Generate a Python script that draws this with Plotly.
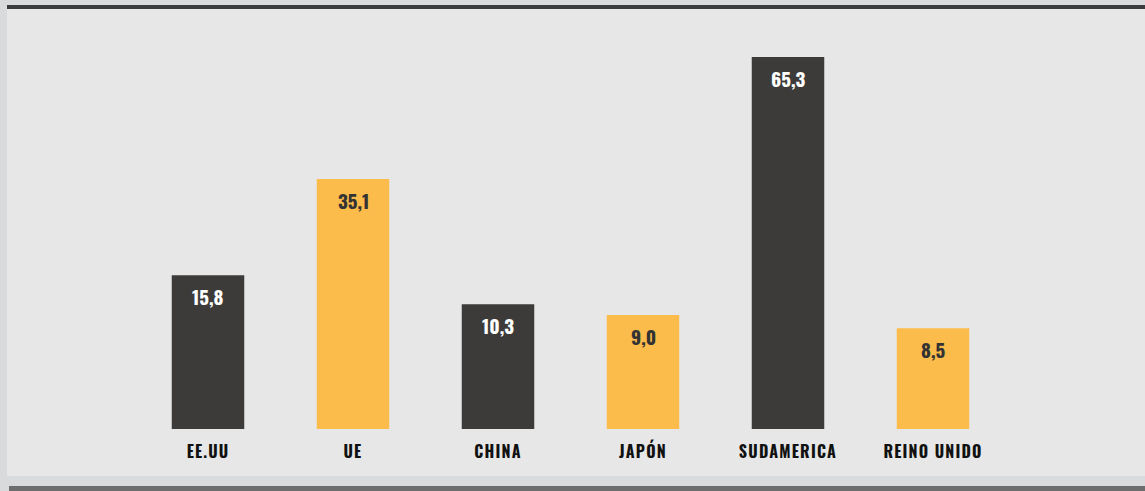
import plotly.graph_objects as go

# categories and the printed values
regions = ['EE.UU', 'UE', 'CHINA', 'JAPÓN', 'SUDAMERICA', 'REINO UNIDO']
labels = [15.8, 35.1, 10.3, 9.0, 65.3, 8.5]
# bar heights as drawn (the graphic is not to scale)
heights = [27.0, 43.9, 21.9, 20.0, 65.3, 17.7]

DARK = '#3c3b39'
YELLOW = '#fbbc4b'
FONT = "Oswald, 'Liberation Sans Narrow', 'DejaVu Sans Condensed', sans-serif"

W, H = 1145, 491

bar_colors = [DARK if i % 2 == 0 else YELLOW for i in range(len(regions))]
text_colors = ['#ffffff' if i % 2 == 0 else '#333333' for i in range(len(regions))]

fig = go.Figure()
fig.add_trace(go.Bar(
    x=regions,
    y=heights,
    marker=dict(color=bar_colors, line=dict(width=0)),
    hoverinfo='skip'
))

# value labels inside the top of each bar
for r, h, v, c in zip(regions, heights, labels, text_colors):
    fig.add_annotation(
        x=r, y=h, yanchor='middle', yshift=-21,
        text=f'{v:.1f}'.replace('.', ','),
        showarrow=False,
        font=dict(family=FONT, size=19, color=c, weight='bold')
    )


def py(p):
    # pixel row -> paper coordinate (margins are zero)
    return 1 - p / H


def px(p):
    return p / W


def rect(x0, x1, y0, y1, color):
    return dict(type='rect', xref='paper', yref='paper',
                x0=x0, x1=x1, y0=y0, y1=y1,
                fillcolor=color, line_width=0, layer='below')


shapes = [
    rect(px(7), 1, py(476), py(9), '#e7e7e7'),     # panel
    rect(px(7), 1, py(9), py(5), '#3b3b3d'),       # dark rule at the top
    rect(px(9), 1, 0, py(486), '#6d6d6d'),         # grey strip at the bottom
]

# spaced-out category captions
ticktext = [f'<span style="letter-spacing:1.2px">{r}</span>' for r in regions]

fig.update_layout(
    width=W, height=H,
    margin=dict(l=0, r=0, t=0, b=0),
    paper_bgcolor='#d9dadc',
    plot_bgcolor='rgba(0,0,0,0)',
    bargap=0.5,
    showlegend=False,
    shapes=shapes,
    xaxis=dict(
        domain=[px(135.5), px(1005.5)],
        range=[-0.5, 5.5],
        tickmode='array', tickvals=regions, ticktext=ticktext,
        showgrid=False, zeroline=False, showline=False,
        ticks='', ticklabelstandoff=12, automargin=False,
        tickfont=dict(family=FONT, size=16, color='#111111', weight='bold'),
        fixedrange=True
    ),
    yaxis=dict(
        domain=[py(429), 1],
        range=[0, 429 / 5.697],
        showgrid=False, zeroline=False, showline=False,
        showticklabels=False, automargin=False, fixedrange=True
    )
)

fig.write_html("out.html", config={'displayModeBar': False},
               post_script="document.body.style.margin='0';")
